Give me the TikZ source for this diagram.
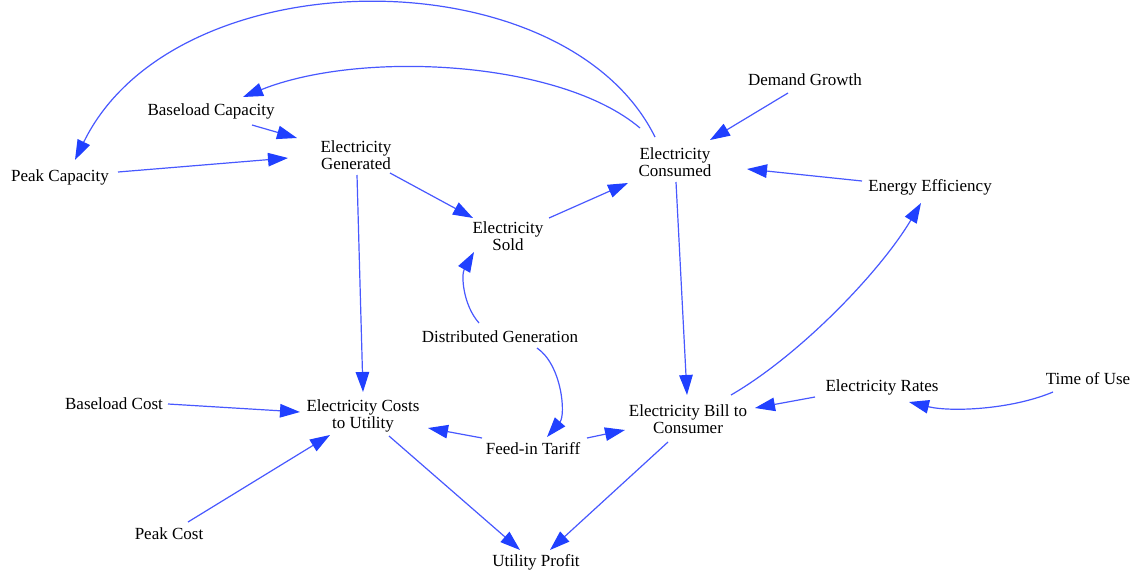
\documentclass[tikz,border=0pt]{standalone}
\usepackage{fontspec}
\setmainfont{Liberation Serif}
\usetikzlibrary{arrows.meta}
\definecolor{linkblue}{RGB}{72,88,255}
\definecolor{tipblue}{RGB}{32,64,255}
\tikzset{
  var/.style={inner sep=0pt, align=center, font=\fontsize{17}{16.5}\selectfont, text=black},
  link/.style={draw=linkblue, line width=1.2pt,
    -{Triangle[length=20pt,width=13.5pt,color=tipblue,fill=tipblue]}, fill=none},
}
\begin{document}
\begin{tikzpicture}[x=1pt,y=-1pt]
\useasboundingbox[fill=white] (0,0) rectangle (1132,571);

% variables
\node[var] (bcap)   at (211,111) {Baseload Capacity};
\node[var] (pcap)   at (60,177)  {Peak Capacity};
\node[var] (gen)    at (356,155) {Electricity\\Generated};
\node[var] (sold)   at (508,236) {Electricity\\Sold};
\node[var] (cons)   at (675,162) {Electricity\\Consumed};
\node[var] (dgrow)  at (805,80)  {Demand Growth};
\node[var] (eff)    at (930,187) {Energy Efficiency};
\node[var] (dg)     at (500,337) {Distributed Generation};
\node[var] (cost)   at (363,416) {Electricity Costs\\to Utility};
\node[var] (bcost)  at (114,404) {Baseload Cost};
\node[var] (pcost)  at (169,534) {Peak Cost};
\node[var] (fit)    at (533,449) {Feed-in Tariff};
\node[var] (bill)   at (688,419) {Electricity Bill to\\Consumer};
\node[var] (rates)  at (882,387) {Electricity Rates};
\node[var] (tou)    at (1088,379){Time of Use};
\node[var] (profit) at (536,562) {Utility Profit};

% causal links
\draw[link] ([shift={(-20,-25)}]cons.center) .. controls (565,-45) and (175,-45) .. ([shift={(15,-17)}]pcap.center);
\draw[link] ([shift={(-35,-34)}]cons.center) .. controls (560,60) and (360,50) .. ([shift={(32,-14)}]bcap.center);
\draw[link] ([shift={(41,14)}]bcap.center) -- ([shift={(-59,-17)}]gen.center);
\draw[link] ([shift={(58,-5)}]pcap.center) -- ([shift={(-68,3)}]gen.center);
\draw[link] ([shift={(34,18)}]gen.center) -- ([shift={(-35,-18)}]sold.center);
\draw[link] ([shift={(41,-18)}]sold.center) -- ([shift={(-47,21)}]cons.center);
\draw[link] ([shift={(-17,13)}]dgrow.center) -- ([shift={(35,-22)}]cons.center);
\draw[link] ([shift={(-68,-6)}]eff.center) -- ([shift={(72,7)}]cons.center);
\draw[link] ([shift={(1,20)}]cons.center) -- ([shift={(-1,-24)}]bill.center);
\draw[link] ([shift={(1,20)}]gen.center) -- ([shift={(0,-24)}]cost.center);
\draw[link] ([shift={(-21,-14)}]dg.center) .. controls (463,305) and (461,275) .. ([shift={(-34,16)}]sold.center);
\draw[link] ([shift={(37,11)}]dg.center) .. controls (562,365) and (566,415) .. ([shift={(14,-12)}]fit.center);
\draw[link] ([shift={(-51,-11)}]fit.center) -- ([shift={(65,12)}]cost.center);
\draw[link] ([shift={(54,-11)}]fit.center) -- ([shift={(-63,11)}]bill.center);
\draw[link] ([shift={(54,0)}]bcost.center) -- ([shift={(-63,-4)}]cost.center);
\draw[link] ([shift={(19,-12)}]pcost.center) -- ([shift={(-33,19)}]cost.center);
\draw[link] ([shift={(26,20)}]cost.center) -- ([shift={(-16,-12)}]profit.center);
\draw[link] ([shift={(-20,23)}]bill.center) -- ([shift={(14,-12)}]profit.center);
\draw[link] ([shift={(43,-24)}]bill.center) .. controls (800,355) and (880,272) .. ([shift={(-9,16)}]eff.center);
\draw[link] ([shift={(-67,10)}]rates.center) -- ([shift={(67,-11)}]bill.center);
\draw[link] ([shift={(-35,13)}]tou.center) .. controls (1010,410) and (950,412) .. ([shift={(27,15)}]rates.center);
\end{tikzpicture}
\end{document}
